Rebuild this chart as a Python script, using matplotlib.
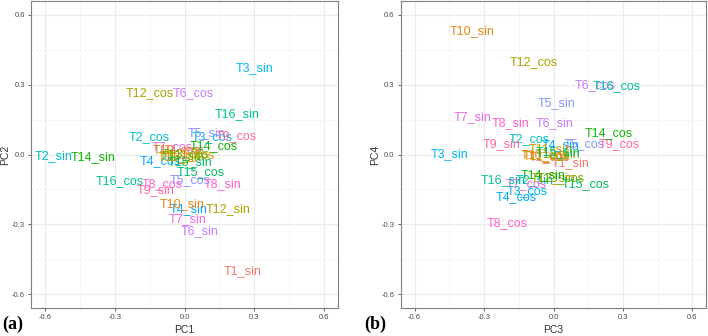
import numpy as np
import matplotlib
matplotlib.use("Agg")
import matplotlib.pyplot as plt

# ---- data ----
labels = ["T1_sin", "T1_cos", "T2_sin", "T2_cos", "T3_sin", "T3_cos", "T4_sin", "T4_cos",
          "T5_sin", "T5_cos", "T6_sin", "T6_cos", "T7_sin", "T7_cos", "T8_sin", "T8_cos",
          "T9_sin", "T9_cos", "T10_sin", "T10_cos", "T11_sin", "T11_cos", "T12_sin", "T12_cos",
          "T13_sin", "T13_cos", "T14_sin", "T14_cos", "T15_sin", "T15_cos", "T16_sin", "T16_cos"]
groups = [l.split("_")[0] for l in labels]

pc1 = [0.248, 0.000, -0.562, -0.150, 0.302, 0.120, 0.017, -0.103,
       0.093, 0.026, 0.067, 0.037, 0.013, -0.052, 0.165, -0.097,
       -0.125, 0.222, -0.010, -0.033, -0.020, 0.030, 0.189, -0.149,
       -0.011, 0.005, -0.395, 0.125, 0.024, 0.069, 0.226, -0.277]
pc2 = [-0.500, 0.020, -0.007, 0.073, 0.370, 0.076, -0.235, -0.030,
       0.090, -0.110, -0.328, 0.262, -0.277, 0.033, -0.125, -0.128,
       -0.153, 0.079, -0.211, 0.021, -0.010, -0.003, -0.235, 0.262,
       -0.007, 0.000, -0.010, 0.037, -0.032, -0.077, 0.173, -0.113]
pc3 = [0.072, -0.020, -0.080, -0.105, -0.448, -0.113, 0.029, -0.161,
       0.014, 0.133, 0.003, 0.181, -0.350, -0.118, -0.187, -0.199,
       -0.225, 0.285, -0.350, -0.036, -0.010, -0.030, 0.000, -0.085,
       0.020, 0.030, -0.045, 0.237, 0.020, 0.138, -0.219, 0.275]
pc4 = [-0.035, -0.010, -0.110, 0.065, 0.001, -0.158, 0.039, -0.183,
       0.223, 0.045, 0.137, 0.299, 0.163, -0.125, 0.137, -0.295,
       0.047, 0.047, 0.529, -0.003, 0.025, -0.005, -0.100, 0.396,
       0.000, -0.100, -0.090, 0.094, 0.010, -0.125, -0.111, 0.296]

ticks = [-0.6, -0.3, 0.0, 0.3, 0.6]
tick_labels = ["-0.6", "-0.3", "0.0", "0.3", "0.6"]

# ---- ggplot hue palette (HCL, l=65, c=100) ----
def hcl_to_rgb(h, c=100.0, l=65.0):
    hr = np.deg2rad(h)
    U = c * np.cos(hr); V = c * np.sin(hr)
    Xn, Yn, Zn = 95.047, 100.0, 108.883
    un = 4 * Xn / (Xn + 15 * Yn + 3 * Zn)
    vn = 9 * Yn / (Xn + 15 * Yn + 3 * Zn)
    Y = Yn * (((l + 16) / 116) ** 3 if l > 8 else l / 903.3)
    u = U / (13 * l) + un
    v = V / (13 * l) + vn
    X = 9.0 * Y * u / (4 * v)
    Z = -X / 3 - 5 * Y + 3 * Y / v
    X, Y, Z = X / 100, Y / 100, Z / 100
    r = 3.240479 * X - 1.537150 * Y - 0.498535 * Z
    g = -0.969256 * X + 1.875992 * Y + 0.041556 * Z
    b = 0.055648 * X - 0.204043 * Y + 1.057311 * Z
    def gam(t):
        t = 12.92 * t if t <= 0.0031308 else 1.055 * t ** (1 / 2.4) - 0.055
        return min(max(t, 0), 1)
    return (gam(r), gam(g), gam(b))

levels = sorted(set(groups))  # alphabetical like an R factor
n = len(levels)
hues = np.linspace(15, 375, n + 1)[:-1]
palette = {lev: hcl_to_rgb(h) for lev, h in zip(levels, hues)}

plt.rcParams['font.family'] = ['Liberation Sans', 'DejaVu Sans']

fig = plt.figure(figsize=(7.08, 3.36), dpi=100)
ax1 = fig.add_axes([0.0438, 0.0833, 0.4336, 0.9137])
ax2 = fig.add_axes([0.566, 0.0833, 0.4316, 0.9137])

def style(ax, xlab, ylab):
    ax.set_xlim(-0.66, 0.66)
    ax.set_ylim(-0.66, 0.66)
    ax.set_xticks(ticks)
    ax.set_xticklabels(tick_labels)
    ax.set_yticks(ticks)
    ax.set_yticklabels(tick_labels)
    ax.set_xticks([-0.45, -0.15, 0.15, 0.45], minor=True)
    ax.set_yticks([-0.45, -0.15, 0.15, 0.45], minor=True)
    ax.grid(True, which='major', color='#EBEBEB', linewidth=0.8)
    ax.grid(True, which='minor', color='#F3F3F3', linewidth=0.5)
    ax.set_axisbelow(True)
    ax.tick_params(axis='both', which='major', labelsize=5.5, colors='#4D4D4D',
                   length=2.5, width=0.6, pad=2)
    ax.tick_params(axis='both', which='minor', length=0)
    for s in ax.spines.values():
        s.set_color('#7F7F7F')
        s.set_linewidth(0.8)
    ax.set_xlabel(xlab, fontsize=7.5, color='#333333', labelpad=3)
    ax.set_ylabel(ylab, fontsize=7.5, color='#333333', labelpad=1)

for x, y, lab, g in zip(pc1, pc2, labels, groups):
    ax1.text(x, y, lab, color=palette[g], fontsize=9, ha='center', va='center')
for x, y, lab, g in zip(pc3, pc4, labels, groups):
    ax2.text(x, y, lab, color=palette[g], fontsize=9, ha='center', va='center')

style(ax1, "PC1", "PC2")
style(ax2, "PC3", "PC4")

fig.text(0.003, 0.035, "(a)", fontsize=13, fontweight='bold', family='Liberation Serif', va='center')
fig.text(0.515, 0.035, "(b)", fontsize=13, fontweight='bold', family='Liberation Serif', va='center')

fig.savefig("out.png", dpi=100)
